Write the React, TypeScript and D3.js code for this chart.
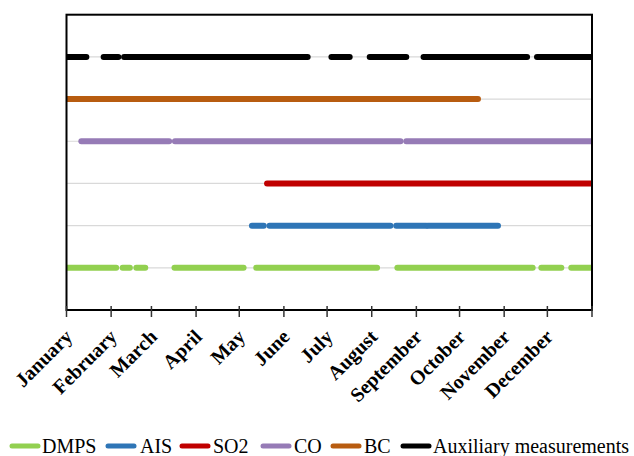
import React from "react";
import * as d3 from "d3";

// Month names and day-of-year month starts
const months = ["January","February","March","April","May","June","July","August","September","October","November","December"];
const monthStarts = [0,31,59,90,120,151,181,212,243,273,304,334,365];

// Series: name, row level, and measured periods [startDay, endDay]
const seriesNames = ["DMPS","AIS","SO2","CO","BC","Auxiliary measurements"];
const seriesRows = [1,2,3,4,5,6];
const seriesColors = ["#92D050","#2E75B6","#C00000","#967BB6","#B85C10","#000000"];

const dmpsPeriods: [number, number][] = [[0,34.5],[39,44],[48.5,54.7],[75,123],[131.8,215.7],[229.8,323.8],[329.8,343.7],[350.6,365]];
const aisPeriods: [number, number][] = [[128.8,137],[141,225],[229,250],[251,299.7]];
const so2Periods: [number, number][] = [[139.3,365]];
const coPeriods: [number, number][] = [[10.3,71.3],[75.3,232],[236,365]];
const bcPeriods: [number, number][] = [[0,285.8]];
const auxPeriods: [number, number][] = [[0,13.8],[25.8,36],[40,167.5],[184,196.7],[210.6,236],[248,319.9],[326.8,365]];

const allPeriods = [dmpsPeriods, aisPeriods, so2Periods, coPeriods, bcPeriods, auxPeriods];

const W = 634, H = 456;
const plotL = 66.5, plotR = 592, plotT = 14.7, plotB = 310;

export default function App() {
  const x = d3.scaleLinear().domain([0, 365]).range([plotL, plotR]);
  const y = d3.scaleLinear().domain([0, 7]).range([plotB, plotT]);
  const line = d3.line<[number, number]>().x(d => d[0]).y(d => d[1]);

  const legendItems = [
    { lx: 10, tx: 42 },
    { lx: 106, tx: 140 },
    { lx: 180, tx: 213 },
    { lx: 261, tx: 294 },
    { lx: 331, tx: 364 },
    { lx: 401, tx: 433 },
  ];

  return (
    <div style={{ position: "absolute", left: 0, top: 0 }}>
      <svg width={W} height={H} style={{ display: "block", background: "#fff" }}>
        <defs>
          <clipPath id="plotClip">
            <rect x={plotL} y={plotT} width={plotR - plotL} height={plotB - plotT} />
          </clipPath>
        </defs>
        {/* gridlines */}
        {seriesRows.map((r) => (
          <line key={"g" + r} x1={plotL} x2={plotR} y1={y(r)} y2={y(r)} stroke="#d9d9d9" strokeWidth={1.2} />
        ))}
        {/* series */}
        <g clipPath="url(#plotClip)">
          {allPeriods.map((periods, si) =>
            periods.map((p, pi) => (
              <path
                key={si + "-" + pi}
                d={line([[x(p[0]), y(seriesRows[si])], [x(p[1]), y(seriesRows[si])]]) || ""}
                stroke={seriesColors[si]}
                strokeWidth={6}
                strokeLinecap="round"
                fill="none"
              />
            ))
          )}
        </g>
        {/* frame */}
        <rect x={plotL} y={plotT} width={plotR - plotL} height={plotB - plotT} fill="none" stroke="#000" strokeWidth={2} />
        {/* ticks */}
        {monthStarts.map((d, i) => (
          <line key={"t" + i} x1={x(d)} x2={x(d)} y1={plotB - 4} y2={plotB + 7} stroke="#333" strokeWidth={1.5} />
        ))}
        {/* month labels */}
        {months.map((m, i) => (
          <text
            key={m}
            transform={`translate(${x(monthStarts[i]) + 7},${plotB + 28}) rotate(-45)`}
            textAnchor="end"
            fontFamily="'Times New Roman', 'Liberation Serif', serif"
            fontWeight="bold"
            fontSize={20}
            fill="#000"
          >
            {m}
          </text>
        ))}
        {/* legend */}
        {seriesNames.map((n, i) => (
          <g key={n}>
            <line x1={legendItems[i].lx + 2} x2={legendItems[i].lx + 28} y1={446} y2={446} stroke={seriesColors[i]} strokeWidth={5} strokeLinecap="round" />
            <text x={legendItems[i].tx} y={453} fontFamily="'Times New Roman', 'Liberation Serif', serif" fontSize={20} fill="#000">
              {n}
            </text>
          </g>
        ))}
      </svg>
    </div>
  );
}
